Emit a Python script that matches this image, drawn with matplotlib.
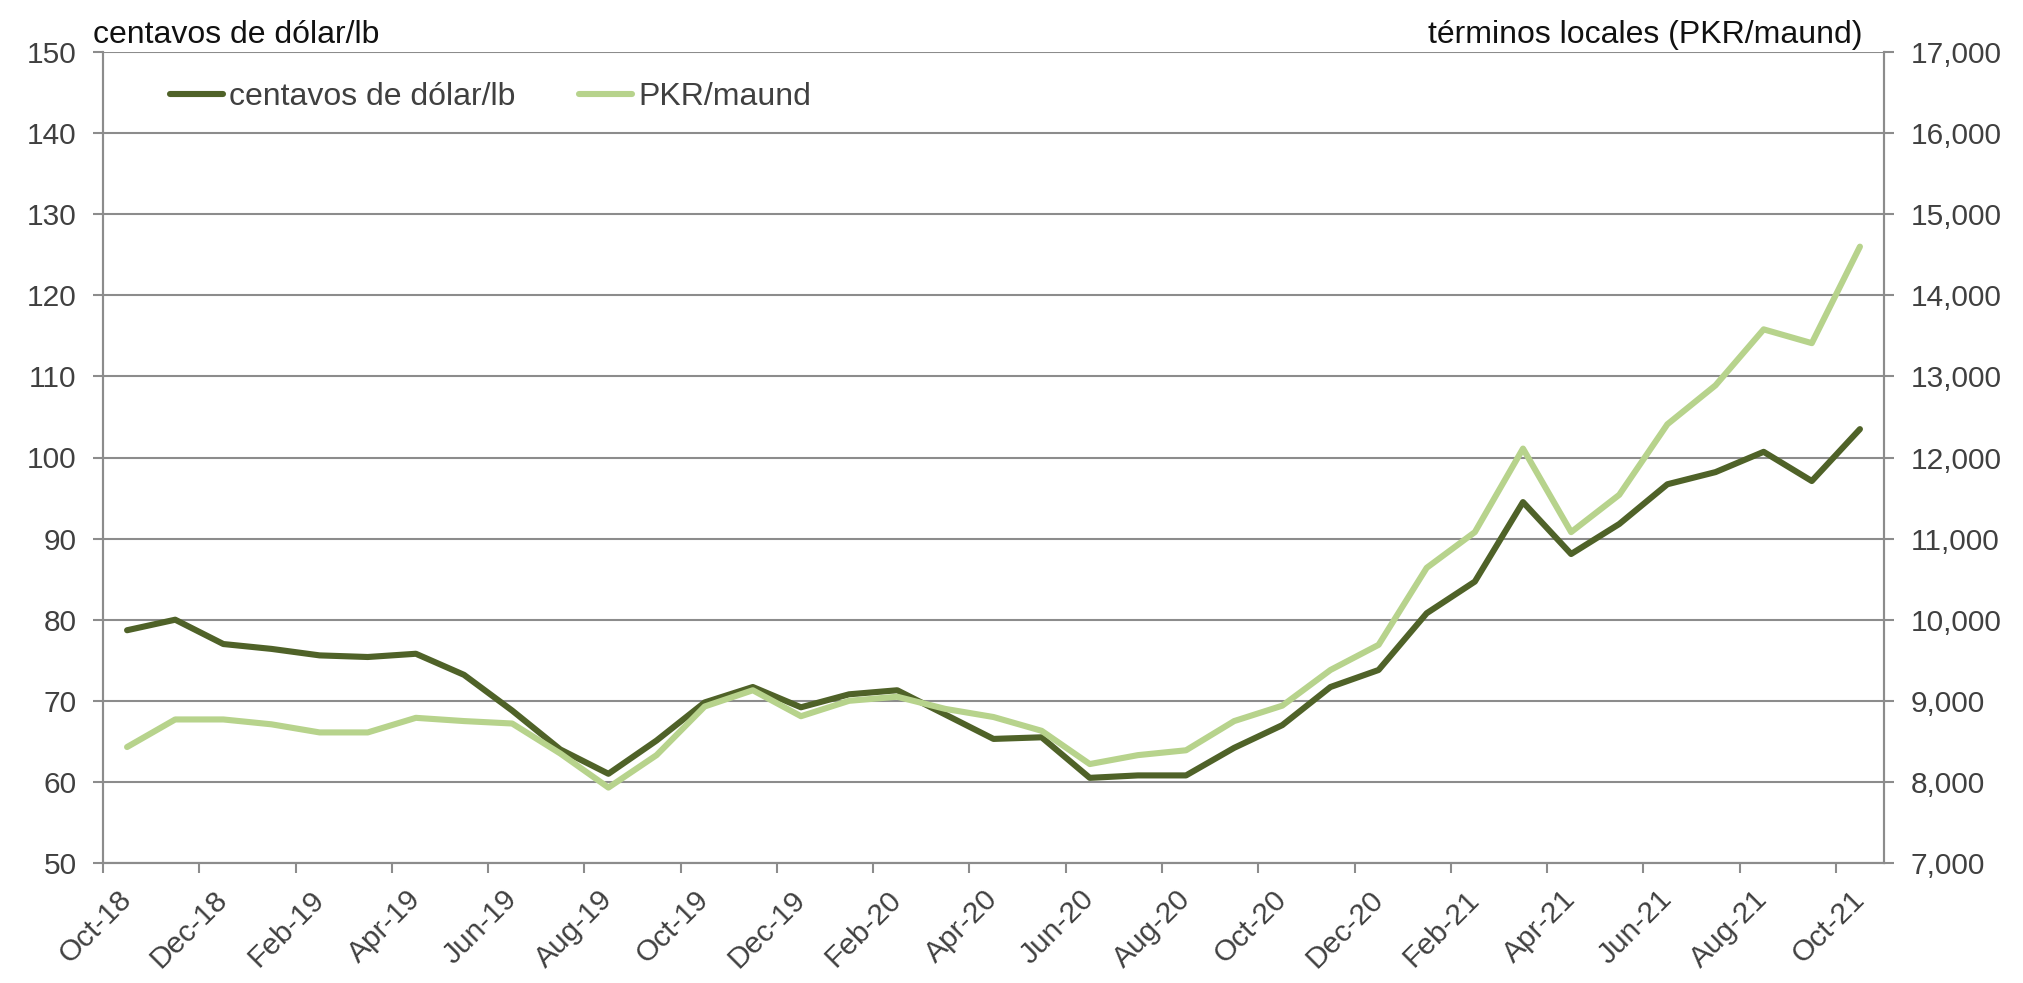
import numpy as np
import matplotlib.pyplot as plt
from matplotlib.ticker import FuncFormatter

# months Oct-18 .. Oct-21
months = ['Oct-18', 'Nov-18', 'Dec-18', 'Jan-19', 'Feb-19', 'Mar-19', 'Apr-19', 'May-19',
          'Jun-19', 'Jul-19', 'Aug-19', 'Sep-19', 'Oct-19', 'Nov-19', 'Dec-19', 'Jan-20',
          'Feb-20', 'Mar-20', 'Apr-20', 'May-20', 'Jun-20', 'Jul-20', 'Aug-20', 'Sep-20',
          'Oct-20', 'Nov-20', 'Dec-20', 'Jan-21', 'Feb-21', 'Mar-21', 'Apr-21', 'May-21',
          'Jun-21', 'Jul-21', 'Aug-21', 'Sep-21', 'Oct-21']

# US cents per lb (left axis)
cents_lb = [78.7, 80.0, 77.0, 76.4, 75.6, 75.4, 75.8, 73.2, 68.8, 64.0, 61.0, 65.1,
            69.8, 71.7, 69.2, 70.8, 71.3, 68.3, 65.3, 65.5, 60.5, 60.8, 60.8, 64.2,
            67.0, 71.7, 73.8, 80.8, 84.7, 94.5, 88.1, 91.8, 96.7, 98.2, 100.7, 97.1, 103.5]

# PKR per maund (right axis)
pkr_maund = [8430, 8770, 8770, 8710, 8610, 8610, 8790, 8750, 8720, 8350, 7930, 8330,
             8930, 9130, 8810, 9000, 9050, 8900, 8800, 8630, 8220, 8330, 8390, 8750,
             8940, 9380, 9690, 10640, 11080, 12110, 11080, 11540, 12410, 12890, 13580, 13410, 14600]

left_label = 'centavos de dólar/lb'
right_label = 'términos locales (PKR/maund)'
legend_labels = ['centavos de dólar/lb', 'PKR/maund']

dark = '#4F6228'
light = '#B7D38C'
grid_col = '#8C8C8C'
txt_col = '#404040'

plt.rcParams['font.family'] = ['Liberation Sans', 'DejaVu Sans']
fs = 21.5     # tick labels
fs_big = 23   # axis titles and legend

fig = plt.figure(figsize=(20.23, 9.83), dpi=100)
ax = fig.add_axes([103/2023, 1 - 863/983, (1884 - 103)/2023, (863 - 52)/983])
ax2 = ax.twinx()

x = np.arange(len(months))
l1, = ax.plot(x, cents_lb, color=dark, lw=4.4, solid_capstyle='round', solid_joinstyle='round', zorder=3)
l2, = ax2.plot(x, pkr_maund, color=light, lw=4.4, solid_capstyle='round', solid_joinstyle='round', zorder=3)

ax.set_xlim(-0.5, len(months) - 0.5)
ax.set_ylim(50, 150)
ax.set_yticks(np.arange(50, 151, 10))
ax2.set_ylim(7000, 17000)
ax2.set_yticks(np.arange(7000, 17001, 1000))
ax2.yaxis.set_major_formatter(FuncFormatter(lambda v, p: f'{int(v):,}'))

ax.grid(axis='y', color=grid_col, lw=1.5, zorder=0)
ax.set_axisbelow(True)

# category labels every 2 months, tick marks on category borders
ax.set_xticks(x[::2])
ax.set_xticklabels(months[::2], rotation=45, ha='right', va='center', rotation_mode='anchor')
ax.set_xticks(np.arange(-0.5, len(months), 2), minor=True)
ax.tick_params(axis='x', which='major', length=0, pad=23, labelsize=fs, labelcolor=txt_col)
ax.tick_params(axis='x', which='minor', length=7, width=1.5, color=grid_col)
ax.tick_params(axis='y', length=7, width=1.5, color=grid_col, pad=12, labelsize=fs, labelcolor=txt_col)
ax2.tick_params(axis='y', length=7, width=1.5, color=grid_col, pad=12, labelsize=fs, labelcolor=txt_col)

for a in (ax, ax2):
    for s in a.spines.values():
        s.set_color(grid_col)
        s.set_linewidth(1.5)
    a.spines['top'].set_visible(False)

fig.text(93/2023, 1 - 43/983, left_label, fontsize=fs_big, color='#111111', ha='left', va='baseline')
fig.text(1863/2023, 1 - 43/983, right_label, fontsize=fs_big, color='#111111', ha='right', va='baseline')

leg = ax2.legend([l1, l2], legend_labels, loc='center left', bbox_to_anchor=(170/2023, 1 - 97/983),
                 bbox_transform=fig.transFigure, ncol=2, frameon=False, fontsize=fs_big,
                 handlelength=1.65, handletextpad=0.2, columnspacing=2.0, borderpad=0, borderaxespad=0)
for t in leg.get_texts():
    t.set_color(txt_col)

fig.savefig('out.png', dpi=100)
